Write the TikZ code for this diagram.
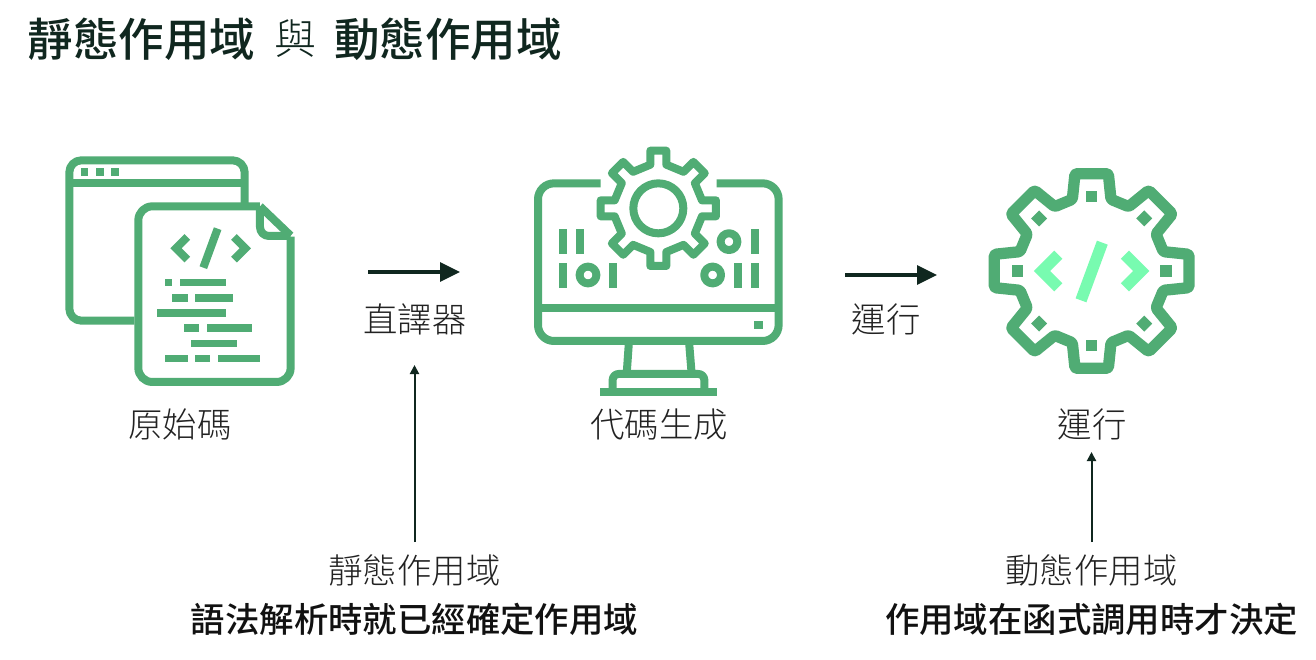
\documentclass[tikz,border=0pt]{standalone}
\usepackage{fontspec}
\setmainfont{Noto Sans CJK TC}
\newfontfamily\lightf{Noto Sans CJK TC Light}
\newfontfamily\medf{Noto Sans CJK TC Medium}
\usetikzlibrary{arrows.meta}
\definecolor{icong}{HTML}{50AC74}
\definecolor{iconl}{HTML}{78FBB0}
\definecolor{inkd}{HTML}{10271F}
\definecolor{inkt}{HTML}{222222}
\definecolor{inkb}{HTML}{111111}
\tikzset{
  icon/.style={draw=icong,line width=8pt,line join=round},
  lab/.style={font=\fontsize{34.4pt}{34pt}\lightf,text=inkt,inner sep=0pt,anchor=center},
  blab/.style={font=\fontsize{34.4pt}{34pt}\medf,text=inkb,inner sep=0pt,anchor=center},
  ttl/.style={font=\fontsize{45.5pt}{45pt}\medf,text=inkd,inner sep=0pt,anchor=center},
  bigarrow/.style={draw=inkd,line width=3.4pt,-{Triangle[length=20pt,width=19pt]}},
  smallarrow/.style={draw=inkd,line width=2pt,-{Triangle[length=9pt,width=9pt]}},
}
\begin{document}
\begin{tikzpicture}[x=1pt,y=-1pt]
\useasboundingbox[fill=white] (0,0) rectangle (1316,659);
% titles
\node[ttl] (t1) at (141.5,39) {靜態作用域};
\node[font=\fontsize{42pt}{42pt}\lightf,text=inkd,inner sep=0pt] (t2) at (295,39) {與};
\node[ttl] (t3) at (448,39) {動態作用域};
% icon 1
\begin{scope}[shift={(50,140)},x=0.3333pt,y=-0.3333pt]
 \draw[icon,rounded corners=12pt] (253,542) -- (58,542) -- (58,61) -- (584,61) -- (584,190);
 \draw[icon] (58,130) -- (584,130);
 \foreach \x in {92,138,184} \fill[icong] (\x,84) rectangle ++(23,23);
 \draw[icon,rounded corners=14pt,fill=white] (722,290) -- (722,726) -- (265,726) -- (265,199) -- (630,199);
 \draw[icon,line join=round] (630,199) -- (722,287);
 \draw[icon,rounded corners=9pt] (630,199) -- (630,288) -- (722,288);
 \draw[icon,line join=miter] (412,291) -- (378,325) -- (412,359);
 \draw[icon,line join=miter] (552,291) -- (586,325) -- (552,359);
 \draw[icon] (503,266) -- (460,383);
 \foreach \a/\b/\y in {345/367/428,391/527/428,367/413/474,436/550/474,321/527/519,402/447/565,470/607/565,424/561/611,344/413/656,436/481/656,504/630/656}
   \fill[icong] (\a,\y-11.5) rectangle (\b,\y+11.5);
\end{scope}
% icon 2
\begin{scope}[shift={(520,140)},x=0.3333pt,y=-0.3333pt]
 \draw[icon,rounded corners=16pt] (242,130) -- (54,130) -- (54,603) -- (776,603) -- (776,130) -- (590,130);
 \draw[icon] (54,505) -- (776,505);
 \fill[icong] (702,542) rectangle (728,568);
 \draw[icon] (327,603) -- (320,702);
 \draw[icon] (507,603) -- (515,702);
 \draw[icon,rounded corners=6pt] (278,755) -- (278,702) -- (553,702) -- (553,755);
 \fill[icong] (241,743) rectangle (590,767);
 \foreach \a/\b/\c in {118/142/268,167/191/268,118/142/368,267/291/368,692/716/268,642/666/368,692/716/368}
   \fill[icong] (\a,\c) rectangle (\b,\c+75);
 \foreach \cx/\cy in {204/405,627/305,578/405}
   \draw[icon] (\cx,\cy) circle[radius=8.4pt];
 \draw[icon] (415,205) circle[radius=25pt];
 \begin{scope}[shift={(415,205)}]
  \draw[icon] (0,-173)
   \foreach \r in {0,45,...,315} { -- ([rotate=-\r]24,-173) -- ([rotate=-\r]24,-131) -- ([rotate=-\r-45]-24,-131) -- ([rotate=-\r-45]-24,-173) } -- cycle;
 \end{scope}
\end{scope}
% icon 3
\begin{scope}[shift={(975,160)},x=0.3333pt,y=-0.3333pt]
 \begin{scope}[shift={(350,333)}]
  \draw[icon,line width=11.3pt,rounded corners=1.5pt] (0,-292)
   \foreach \r in {0,45,...,315} { -- ([rotate=-\r]50,-292) -- ([rotate=-\r]58,-215) -- ([rotate=-\r-45]-58,-215) -- ([rotate=-\r-45]-50,-292) } -- cycle;
  \foreach \r in {0,45,...,315} \fill[icong,rotate=\r] (-17,-240) rectangle (17,-206);
 \end{scope}
 \draw[draw=iconl,line width=11.5pt,line join=miter] (250,284) -- (201,333) -- (250,382);
 \draw[draw=iconl,line width=11.5pt,line join=miter] (450,284) -- (499,333) -- (450,382);
 \draw[draw=iconl,line width=11.5pt] (382,248) -- (318,421);
\end{scope}
% labels
\node[lab] (source) at (180,424) {原始碼};
\node[lab] (interp) at (415,319) {直譯器};
\node[lab] (codegen) at (659,424) {代碼生成};
\node[lab] (runa) at (886,319) {運行};
\node[lab] (runb) at (1092,424) {運行};
\node[lab] (stat) at (414.5,570) {靜態作用域};
\node[lab] (dyn) at (1091.5,570) {動態作用域};
\node[blab] (statb) at (414.5,619) {語法解析時就已經確定作用域};
\node[blab] (dynb) at (1091.5,619) {作用域在函式調用時才決定};
% arrows
\coordinate (a1s) at (368,272); \coordinate (a1e) at (460,272);
\coordinate (a2s) at (845,275); \coordinate (a2e) at (937,275);
\coordinate (a3e) at (414.5,365); \coordinate (a4e) at (1091.5,452);
\draw[bigarrow] (a1s) -- (a1e);
\draw[bigarrow] (a2s) -- (a2e);
\draw[smallarrow] (stat.north |- 0,542) -- (a3e);
\draw[smallarrow] (dyn.north |- 0,542) -- (a4e);
\end{tikzpicture}
\end{document}
